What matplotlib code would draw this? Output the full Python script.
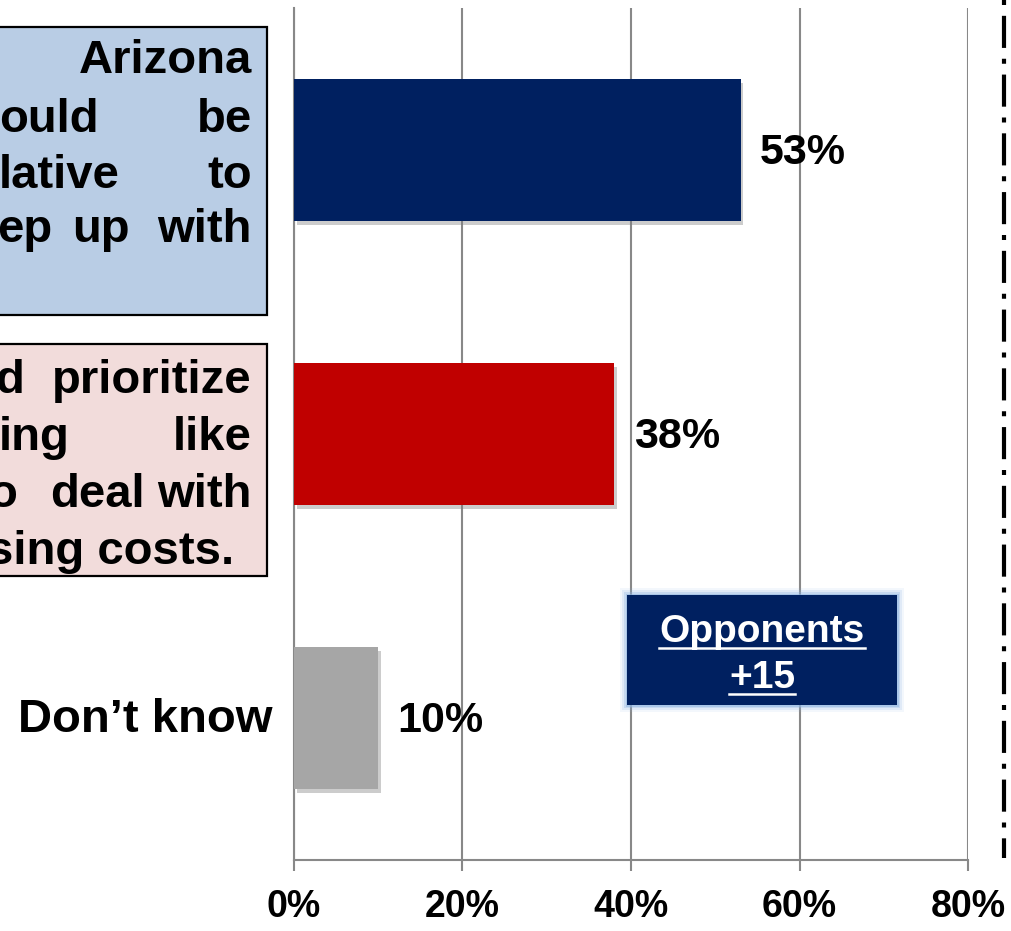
import matplotlib
matplotlib.use("Agg")
import matplotlib.pyplot as plt
from matplotlib.patches import Rectangle
from matplotlib.lines import Line2D
import matplotlib.patheffects as pe

# ---- data ----
categories = ["support", "oppose", "Don\u2019t know"]
values = [53, 38, 10]
bar_colors = ["#002060", "#C00000", "#A6A6A6"]
value_labels = ["53%", "38%", "10%"]
xticks = [0, 20, 40, 60, 80]
xtick_labels = ["0%", "20%", "40%", "60%", "80%"]
callout_lines = ["Opponents", "+15"]

# visible (cropped) fragments of the justified statement boxes
blue_lines = [[("Arizona", "r", 252)],
              [("ould", "l", -1), ("be", "r", 252)],
              [("lative", "l", -1), ("to", "r", 252)],
              [("ep", "l", -3), ("up", "l", 72), ("with", "r", 252)]]
blue_baselines = [73, 132, 188, 242]
pink_lines = [[("d", "l", -5), ("prioritize", "r", 252)],
              [("ing", "l", -1), ("like", "r", 252)],
              [("o", "l", -12), ("deal", "l", 50), ("with", "r", 252)],
              [("sing costs.", "r", 234)]]
pink_baselines = [393, 450, 507, 564]

W, H = 1012, 931
FONT = "Liberation Sans"
fig = plt.figure(figsize=(W / 100, H / 100), dpi=100)
fig.patch.set_facecolor("white")


def fx(x):
    return x / W


def fy(y):
    return 1 - y / H


ax = fig.add_axes([fx(294), fy(860), fx(968) - fx(294), fy(8) - fy(860)])
ypos = list(range(len(values)))
bars = ax.barh(ypos, values, height=0.5, color=bar_colors, zorder=3)
for b in bars:
    b.set_path_effects([pe.SimplePatchShadow(offset=(2, -3), shadow_rgbFace="#808080", alpha=0.4),
                        pe.Normal()])
ax.set_ylim(len(values) - 0.5, -0.5)
ax.set_xlim(0, 80)
ax.set_xticks(xticks)
ax.set_xticklabels(xtick_labels, fontfamily=FONT, fontweight="bold", fontsize=27)
ax.set_yticks([])
gridc = "#888888"
ax.xaxis.grid(True, color=gridc, lw=1.5, zorder=0)
ax.tick_params(axis="x", direction="out", length=8, width=1.5, color=gridc, pad=13)
for s in ["top", "right"]:
    ax.spines[s].set_visible(False)
for s in ["left", "bottom"]:
    ax.spines[s].set_color(gridc)
    ax.spines[s].set_linewidth(1.5)

for i, (v, lab) in enumerate(zip(values, value_labels)):
    ax.annotate(lab, xy=(v, i), xytext=(14, -2), textcoords="offset points",
                ha="left", va="center", fontsize=31, fontweight="bold",
                fontfamily=FONT, color="black")

# "Don't know" label
fig.text(fx(272), fy(732), categories[2], ha="right", va="baseline",
         fontsize=34, fontweight="bold", fontfamily=FONT)

# statement boxes
fig.add_artist(Rectangle((fx(-5), fy(315)), fx(272), fy(27) - fy(315),
                         transform=fig.transFigure, facecolor="#B9CDE5",
                         edgecolor="black", lw=1.6))
fig.add_artist(Rectangle((fx(-5), fy(576)), fx(272), fy(344) - fy(576),
                         transform=fig.transFigure, facecolor="#F2DCDB",
                         edgecolor="black", lw=1.6))
for lines, bases in [(blue_lines, blue_baselines), (pink_lines, pink_baselines)]:
    for words, yb in zip(lines, bases):
        for w, al, x in words:
            fig.text(fx(x), fy(yb), w, ha="left" if al == "l" else "right",
                     va="baseline", fontsize=34, fontweight="bold",
                     fontfamily=FONT, color="black")

# callout with glow
x0, y0, x1, y1 = 627, 595, 897, 705
for k, a in [(7, 0.10), (5, 0.18), (3, 0.3), (1.5, 0.5)]:
    fig.add_artist(Rectangle((fx(x0 - k), fy(y1 + k)), fx(x1 - x0 + 2 * k),
                             fy(y0 - k) - fy(y1 + k), transform=fig.transFigure,
                             facecolor="#8DB4E2", edgecolor="none", alpha=a))
fig.add_artist(Rectangle((fx(x0), fy(y1)), fx(x1 - x0), fy(y0) - fy(y1),
                         transform=fig.transFigure, facecolor="#002060",
                         edgecolor="none"))
cx = (x0 + x1) / 2
ct = []
for txt, yb in zip(callout_lines, [642, 688]):
    ct.append((fig.text(fx(cx), fy(yb), txt, ha="center", va="baseline",
                        fontsize=28, fontweight="bold", fontfamily=FONT,
                        color="white"), yb))

# dash-dot separator on right
fig.add_artist(Line2D([fx(1004), fx(1004)], [fy(0), fy(858)],
                      transform=fig.transFigure, color="black", lw=3,
                      linestyle=(0, (1.2, 2.6, 7.7, 2.6))))

fig.canvas.draw()
r = fig.canvas.get_renderer()
for t, yb in ct:
    bb = t.get_window_extent(r)
    fig.add_artist(Line2D([bb.x0 / W, bb.x1 / W], [fy(yb + 6)] * 2,
                          transform=fig.transFigure, color="white", lw=1.8))

fig.savefig("out.png", dpi=100, facecolor="white")
